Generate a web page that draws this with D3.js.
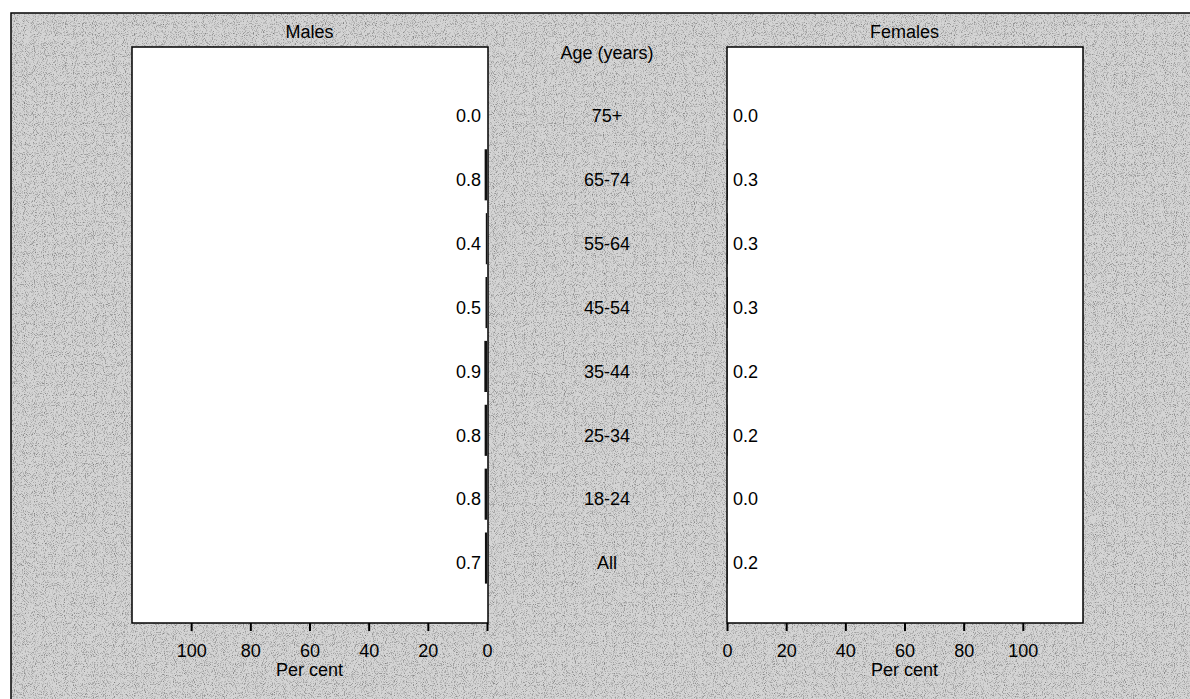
<!DOCTYPE html>
<html>
<head>
<meta charset="utf-8">
<script src="https://cdn.jsdelivr.net/npm/d3@7"></script>
<style>
  body { margin: 0; background: #fff; }
  text { font-family: "Liberation Sans", Arial, sans-serif; fill: #000; }
</style>
</head>
<body>
<div id="chart"></div>
<script>
// age groups, top to bottom
var ageGroups = ["75+", "65-74", "55-64", "45-54", "35-44", "25-34", "18-24", "All"];
var malesPct = [0.0, 0.8, 0.4, 0.5, 0.9, 0.8, 0.8, 0.7];
var femalesPct = [0.0, 0.3, 0.3, 0.3, 0.2, 0.2, 0.0, 0.2];
var tickVals = [0, 20, 40, 60, 80, 100];

var width = 1190, height = 699;
var plotTop = 47, plotBottom = 623;
var fs = "18px";

var svg = d3.select("#chart")
  .append("svg")
    .attr("width", width)
    .attr("height", height);

// speckled grey background like the scanned original
var defs = svg.append("defs");
var f = defs.append("filter").attr("id", "grain")
  .attr("x", 0).attr("y", 0).attr("width", "100%").attr("height", "100%");
f.append("feTurbulence").attr("type", "fractalNoise")
  .attr("baseFrequency", 1.1).attr("numOctaves", 1).attr("seed", 3).attr("result", "n");
f.append("feColorMatrix").attr("type", "matrix")
  .attr("values", "0 0 0 0 0  0 0 0 0 0  0 0 0 0 0  -2.6 0 0 0 1.3");

svg.append("rect")
  .attr("x", 11).attr("y", 13)
  .attr("width", width).attr("height", height)
  .attr("fill", "#d4d4d4")
  .attr("stroke", "#000").attr("stroke-width", 1.5);
svg.append("rect")
  .attr("x", 12).attr("y", 14)
  .attr("width", width).attr("height", height)
  .attr("filter", "url(#grain)")
  .attr("opacity", 0.5);

var y = d3.scaleBand()
  .domain(ageGroups)
  .range([79, 590])
  .paddingInner(0.2)
  .paddingOuter(0.1);

var xM = d3.scaleLinear().domain([0, 120]).range([487, 132]);
var xF = d3.scaleLinear().domain([0, 120]).range([727, 1082]);

function panel(x, values, title, side) {
  var g = svg.append("g");
  var x0 = Math.min(x.range()[0], x.range()[1]);
  var x1 = Math.max(x.range()[0], x.range()[1]);

  g.append("rect")
    .attr("x", x0).attr("y", plotTop)
    .attr("width", x1 - x0 + 1).attr("height", plotBottom - plotTop)
    .attr("fill", "#fff")
    .attr("stroke", "#000").attr("stroke-width", 1.5);

  // bars
  g.selectAll("rect.bar")
    .data(ageGroups)
    .enter().append("rect")
      .attr("class", "bar")
      .attr("x", function(d, i) { return Math.min(x(0), x(values[i])); })
      .attr("y", function(d) { return y(d); })
      .attr("width", function(d, i) { return Math.abs(x(values[i]) - x(0)); })
      .attr("height", y.bandwidth())
      .attr("fill", "#111");

  // value labels
  g.selectAll("text.val")
    .data(ageGroups)
    .enter().append("text")
      .attr("class", "val")
      .attr("x", side == "left" ? x(0) - 6 : x(0) + 6)
      .attr("y", function(d) { return y(d) + y.bandwidth() / 2 + 5; })
      .attr("dy", "0.35em")
      .attr("text-anchor", side == "left" ? "end" : "start")
      .style("font-size", fs)
      .text(function(d, i) { return values[i].toFixed(1); });

  // axis
  var ax = g.append("g")
    .attr("transform", "translate(0," + plotBottom + ")")
    .call(d3.axisBottom(x).tickValues(tickVals).tickSize(8).tickPadding(13));
  ax.select(".domain").remove();
  ax.selectAll(".tick line").attr("stroke", "#000").attr("stroke-width", 2);
  ax.selectAll(".tick text")
    .style("font-size", fs)
    .style("font-family", "Liberation Sans, Arial, sans-serif");

  g.append("text")
    .attr("x", (x0 + x1) / 2)
    .attr("y", 676)
    .attr("text-anchor", "middle")
    .style("font-size", fs)
    .text("Per cent");

  g.append("text")
    .attr("x", (x0 + x1) / 2)
    .attr("y", 38)
    .attr("text-anchor", "middle")
    .style("font-size", fs)
    .text(title);
}

panel(xM, malesPct, "Males", "left");
panel(xF, femalesPct, "Females", "right");

// centre column
svg.append("text")
  .attr("x", 607)
  .attr("y", 59)
  .attr("text-anchor", "middle")
  .style("font-size", fs)
  .text("Age (years)");

svg.selectAll("text.age")
  .data(ageGroups)
  .enter().append("text")
    .attr("class", "age")
    .attr("x", 607)
    .attr("y", function(d) { return y(d) + y.bandwidth() / 2 + 5; })
    .attr("dy", "0.35em")
    .attr("text-anchor", "middle")
    .style("font-size", fs)
    .text(function(d) { return d; });
</script>
</body>
</html>
